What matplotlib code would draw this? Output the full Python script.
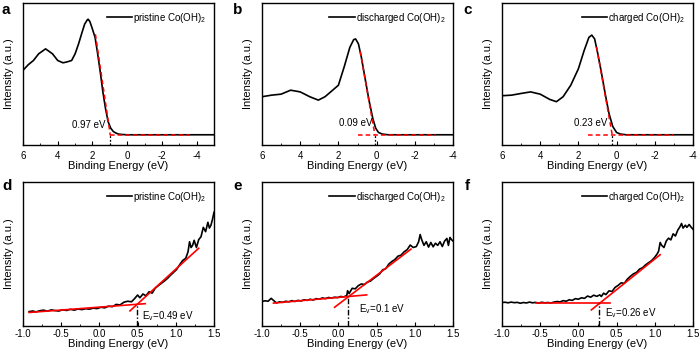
import matplotlib
matplotlib.use("Agg")
import matplotlib.pyplot as plt

plt.rcParams["font.family"] = ["Liberation Sans", "DejaVu Sans"]
plt.rcParams["mathtext.default"] = "regular"
plt.rcParams["axes.unicode_minus"] = False

# ---------- valence band spectra (top row)
xa = [6.0, 5.7, 5.4, 5.1, 4.7, 4.3, 4.0, 3.7, 3.5, 3.2, 3.0, 2.8, 2.6, 2.45,
      2.3, 2.25, 2.15, 2.0, 1.85, 1.7, 1.55, 1.4, 1.25, 1.1, 0.95, 0.8,
      0.65, 0.5, 0.3, 0.0, -2.0, -5.0]
ya = [0.526, 0.565, 0.595, 0.642, 0.677, 0.642, 0.595, 0.579, 0.584, 0.595,
      0.642, 0.712, 0.793, 0.851, 0.881, 0.886, 0.870, 0.816, 0.758, 0.642,
      0.514, 0.374, 0.258, 0.165, 0.119, 0.095, 0.084, 0.077, 0.074, 0.072,
      0.072, 0.072]

xb = [6.0, 5.5, 5.0, 4.5, 4.0, 3.5, 3.05, 2.7, 2.3, 2.0, 1.7, 1.4, 1.2, 1.1,
      0.95, 0.8, 0.6, 0.4, 0.2, 0.05, -0.1, -0.3, -0.6, -4.0]
yb = [0.340, 0.351, 0.358, 0.386, 0.374, 0.340, 0.316, 0.340, 0.386, 0.421,
      0.549, 0.688, 0.742, 0.747, 0.712, 0.619, 0.467, 0.316, 0.188, 0.119,
      0.088, 0.077, 0.072, 0.072]

xc = [6.0, 5.5, 5.0, 4.5, 4.0, 3.5, 3.15, 2.8, 2.4, 2.0, 1.7, 1.45, 1.3, 1.15,
      1.0, 0.8, 0.6, 0.4, 0.2, 0.0, -0.2, -0.5, -4.0]
yc = [0.347, 0.351, 0.363, 0.374, 0.358, 0.321, 0.305, 0.340, 0.421, 0.537,
      0.665, 0.758, 0.774, 0.747, 0.653, 0.514, 0.363, 0.223, 0.130, 0.088,
      0.077, 0.072, 0.072]

# edge fits (x pairs, y pairs), base lines, onset values
edge_a = ([1.83, 0.97], [0.78, 0.067])
base_a = ([0.97, -3.6], [0.067, 0.067])
edge_b = ([0.86, 0.09], [0.66, 0.072])
base_b = ([0.95, -3.1], [0.072, 0.072])
edge_c = ([1.05, 0.23], [0.69, 0.072])
base_c = ([1.5, -3.0], [0.072, 0.072])
onset_top = [0.97, 0.09, 0.23]
onset_top_lbl = ["0.97 eV", "0.09 eV", "0.23 eV"]

# ---------- zoom of the edge (bottom row)
xd = [-0.92, -0.87, -0.83, -0.78, -0.73, -0.68, -0.63, -0.58, -0.53, -0.48,
      -0.43, -0.38, -0.33, -0.28, -0.23, -0.18, -0.13, -0.08, -0.03, 0.02,
      0.07, 0.12, 0.17, 0.22, 0.27, 0.32, 0.37, 0.42, 0.46, 0.50, 0.53, 0.57,
      0.61, 0.65, 0.69, 0.73, 0.77, 0.81, 0.85, 0.89, 0.93, 0.97, 1.01, 1.05,
      1.09, 1.13, 1.16, 1.18, 1.20, 1.22, 1.24, 1.27, 1.30, 1.33, 1.36, 1.39,
      1.42, 1.44, 1.46, 1.48, 1.50]
yd = [0.100, 0.104, 0.098, 0.106, 0.110, 0.103, 0.112, 0.107, 0.104, 0.113,
      0.108, 0.116, 0.110, 0.118, 0.114, 0.120, 0.117, 0.124, 0.121, 0.130,
      0.126, 0.138, 0.134, 0.150, 0.146, 0.165, 0.172, 0.168, 0.190, 0.215,
      0.196, 0.222, 0.210, 0.238, 0.228, 0.262, 0.280, 0.296, 0.312, 0.330,
      0.352, 0.372, 0.392, 0.425, 0.455, 0.470, 0.515, 0.585, 0.545, 0.560,
      0.595, 0.545, 0.600, 0.620, 0.685, 0.655, 0.720, 0.680, 0.700, 0.740,
      0.790]

xe = [-1.00, -0.96, -0.92, -0.88, -0.85, -0.81, -0.77, -0.73, -0.69, -0.65,
      -0.61, -0.57, -0.53, -0.49, -0.45, -0.41, -0.37, -0.33, -0.29, -0.25,
      -0.21, -0.17, -0.13, -0.09, -0.05, -0.01, 0.03, 0.07, 0.11, 0.12, 0.14,
      0.18, 0.22, 0.26, 0.30, 0.34, 0.38, 0.42, 0.46, 0.50, 0.54, 0.58, 0.62,
      0.66, 0.70, 0.74, 0.78, 0.82, 0.86, 0.90, 0.94, 0.98, 1.02, 1.05, 1.07,
      1.09, 1.12, 1.15, 1.18, 1.21, 1.24, 1.27, 1.30, 1.33, 1.36, 1.39, 1.42,
      1.44, 1.46, 1.48, 1.50]
ye = [0.170, 0.175, 0.172, 0.192, 0.178, 0.160, 0.168, 0.164, 0.172, 0.168,
      0.176, 0.170, 0.178, 0.174, 0.182, 0.178, 0.186, 0.180, 0.190, 0.186,
      0.195, 0.190, 0.198, 0.194, 0.200, 0.197, 0.205, 0.202, 0.212, 0.245,
      0.225, 0.262, 0.258, 0.280, 0.292, 0.288, 0.305, 0.312, 0.330, 0.345,
      0.362, 0.390, 0.398, 0.430, 0.448, 0.462, 0.485, 0.492, 0.515, 0.530,
      0.562, 0.545, 0.552, 0.585, 0.635, 0.600, 0.560, 0.585, 0.548, 0.580,
      0.550, 0.575, 0.560, 0.585, 0.552, 0.590, 0.608, 0.560, 0.615, 0.600,
      0.590]

xf = [-1.00, -0.96, -0.92, -0.88, -0.84, -0.80, -0.76, -0.72, -0.68, -0.64,
      -0.60, -0.56, -0.52, -0.48, -0.44, -0.40, -0.36, -0.32, -0.28, -0.24,
      -0.20, -0.16, -0.12, -0.08, -0.04, 0.00, 0.04, 0.08, 0.12, 0.16, 0.20,
      0.24, 0.28, 0.30, 0.33, 0.36, 0.40, 0.44, 0.48, 0.52, 0.56, 0.60, 0.64,
      0.68, 0.72, 0.76, 0.80, 0.84, 0.88, 0.92, 0.96, 1.00, 1.03, 1.05, 1.07,
      1.09, 1.12, 1.15, 1.18, 1.21, 1.24, 1.27, 1.30, 1.33, 1.35, 1.37, 1.40,
      1.42, 1.45, 1.47, 1.50]
yf = [0.163, 0.165, 0.161, 0.166, 0.162, 0.164, 0.158, 0.163, 0.160, 0.166,
      0.161, 0.164, 0.159, 0.165, 0.161, 0.163, 0.160, 0.166, 0.170, 0.167,
      0.176, 0.172, 0.182, 0.178, 0.190, 0.186, 0.196, 0.192, 0.208, 0.200,
      0.214, 0.206, 0.216, 0.205, 0.228, 0.218, 0.244, 0.240, 0.268, 0.282,
      0.300, 0.296, 0.325, 0.345, 0.362, 0.372, 0.395, 0.405, 0.425, 0.440,
      0.455, 0.478, 0.500, 0.520, 0.580, 0.560, 0.545, 0.590, 0.610, 0.598,
      0.640, 0.625, 0.665, 0.690, 0.712, 0.680, 0.700, 0.685, 0.705, 0.690,
      0.672]

low_d = ([-0.92, 0.60], [0.094, 0.155])
high_d = ([0.40, 1.30], [0.105, 0.540])
low_e = ([-0.85, 0.37], [0.159, 0.216])
high_e = ([-0.05, 0.95], [0.130, 0.534])
low_f = ([-0.55, 0.42], [0.158, 0.158])
high_f = ([0.17, 1.07], [0.112, 0.495])
ev_bottom = [0.49, 0.12, 0.27]
ev_bottom_y = [0.150, 0.205, 0.158]
ev_lbl = ["E$_v$=0.49 eV", "E$_v$=0.1 eV", "E$_v$=0.26 eV"]

names = ["pristine Co(OH)$_2$", "discharged Co(OH)$_2$", "charged Co(OH)$_2$"]
top_xlim = [(6, -5), (6, -4), (6, -4)]


# ----------
def style_axes(ax, pad):
    ax.set_yticks([])
    ax.tick_params(axis="x", direction="in", length=3, width=0.8,
                   labelsize=7, pad=pad)
    ax.tick_params(axis="x", which="minor", direction="in", length=1.8,
                   width=0.6)
    for sp in ax.spines.values():
        sp.set_linewidth(1.0)
    ax.set_xlabel("Binding Energy (eV)", fontsize=8, labelpad=0.5)
    ax.set_ylabel("Intensity (a.u.)", fontsize=8)
    ax.yaxis.set_label_coords(-0.045, 0.5)


def add_legend(ax, name):
    ax.legend([name], loc="upper right", frameon=False, fontsize=7,
              handlelength=2.6, handletextpad=0.1, borderaxespad=0.4)


fig = plt.figure(figsize=(7.0, 3.52), dpi=100)

lefts = [23 / 700, 262 / 700, 502 / 700]
width = 191 / 700
top_rect = ((352 - 145) / 352, 142 / 352)
bot_rect = ((352 - 326) / 352, 144 / 352)

tops = [(xa, ya, edge_a, base_a), (xb, yb, edge_b, base_b),
        (xc, yc, edge_c, base_c)]
lbl_pos = [(2.2, 0.14), (1.1, 0.155), (1.37, 0.155)]

for i, (xs, ys, edge, base) in enumerate(tops):
    ax = fig.add_axes([lefts[i], top_rect[0], width, top_rect[1]])
    ax.plot(xs, ys, color="black", lw=1.2)
    ax.plot(edge[0], edge[1], color="red", lw=1.1, ls=(0, (3, 2)))
    ax.plot(base[0], base[1], color="red", lw=1.1, ls=(0, (3, 2)))
    ax.plot([onset_top[i], onset_top[i]], [0, 0.08], color="black",
            lw=0.9, ls=(0, (1.5, 1.5)))
    ax.text(lbl_pos[i][0], lbl_pos[i][1], onset_top_lbl[i], fontsize=7,
            ha="center", va="center")
    ax.set_xlim(*top_xlim[i])
    ax.set_ylim(0, 1)
    ax.set_xticks([6, 4, 2, 0, -2, -4])
    ax.set_xticks([5, 3, 1, -1, -3], minor=True)
    style_axes(ax, 4)
    add_legend(ax, names[i])

bots = [(xd, yd, low_d, high_d), (xe, ye, low_e, high_e),
        (xf, yf, low_f, high_f)]
ev_txt_x = [0.56, 0.27, 0.35]
ev_txt_y = [0.066, 0.114, 0.088]

for i, (xs, ys, low, high) in enumerate(bots):
    ax = fig.add_axes([lefts[i], bot_rect[0], width, bot_rect[1]])
    ax.plot(xs, ys, color="black", lw=1.2)
    ax.plot(low[0], low[1], color="red", lw=1.2)
    ax.plot(high[0], high[1], color="red", lw=1.2)
    ax.plot([ev_bottom[i], ev_bottom[i]], [0, ev_bottom_y[i]],
            color="black", lw=1.0, ls=(0, (4, 1.5, 1, 1.5)))
    ax.text(ev_txt_x[i], ev_txt_y[i], ev_lbl[i], fontsize=7,
            ha="left", va="center")
    ax.set_xlim(-1.0, 1.5)
    ax.set_ylim(0, 1)
    ax.set_xticks([-1.0, -0.5, 0.0, 0.5, 1.0, 1.5])
    ax.set_xticks([-0.75, -0.25, 0.25, 0.75, 1.25], minor=True)
    ax.xaxis.set_major_formatter(plt.FormatStrFormatter("%.1f"))
    style_axes(ax, 2)
    add_legend(ax, names[i])

letters = ["a", "b", "c", "d", "e", "f"]
letter_pos = [(1, 10), (233, 10), (463, 10), (2, 186), (233, 186),
              (465, 186)]
for t, (px, py) in zip(letters, letter_pos):
    fig.text(px / 700, 1 - py / 352, t, fontsize=11, fontweight="bold",
             ha="left", va="center")

fig.savefig("out.png", dpi=100)
